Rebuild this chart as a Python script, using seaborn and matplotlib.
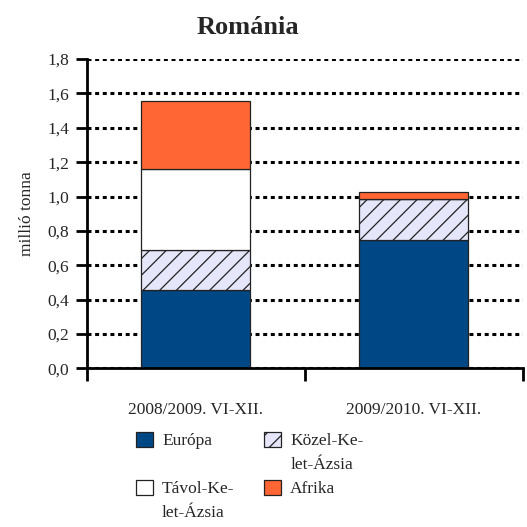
import numpy as np
import pandas as pd
import seaborn as sns
import matplotlib.pyplot as plt
from matplotlib.patches import Patch, Rectangle
from matplotlib.legend_handler import HandlerPatch

# adatok (millió tonna)
periods = ['2008/2009. VI-XII.', '2009/2010. VI-XII.']
regions = ['Európa', 'Közel-Kelet-Ázsia', 'Távol-Kelet-Ázsia', 'Afrika']
europa = [0.458, 0.746]
kozel_kelet = [0.229, 0.237]
tavol_kelet = [0.475, 0.0]
afrika = [0.391, 0.045]

legend_labels = ['Európa\n', 'Közel-Ke-\nlet-Ázsia', 'Távol-Ke-\nlet-Ázsia', 'Afrika\n']
colors = ['#004785', '#E6E6FA', '#FFFFFF', '#FF6633']
hatches = ['', '//', '', '']

df = pd.DataFrame({
    'period': periods * 4,
    'region': np.repeat(regions, 2),
    'value': europa + kozel_kelet + tavol_kelet + afrika,
})

sns.set_style('white')
plt.rcParams['font.family'] = ['Liberation Serif', 'DejaVu Serif']
plt.rcParams['hatch.linewidth'] = 0.9

fig = plt.figure(figsize=(5.27, 5.27), dpi=100)
ax = fig.add_axes([0.165, 0.3008, 0.827, 0.5872])

bottom = np.zeros(len(periods))
for reg, col, h in zip(regions, colors, hatches):
    sub = df[df['region'] == reg]
    sns.barplot(data=sub, x='period', y='value', order=periods, color=col,
                width=0.5, bottom=bottom, hatch=h, edgecolor='#222222',
                linewidth=0.9, saturation=1, ax=ax, zorder=3)
    bottom = bottom + sub['value'].to_numpy()

# rácsvonalak
ax.set_axisbelow(True)
ax.yaxis.grid(True, color='black', linewidth=2.2, linestyle=(0, (1.3, 1.2)),
              dash_capstyle='butt', zorder=0)
ax.xaxis.grid(False)

ax.set_ylim(0, 1.8)
ax.set_xlim(-0.5, 1.5)
yt = np.arange(0, 1.81, 0.2)
ax.set_yticks(yt)
ax.set_yticklabels([f'{v:.1f}'.replace('.', ',') for v in yt], fontsize=12.5)
ax.set_xticks([-0.5, 0.5, 1.5])
ax.set_xticklabels([])
ax.set_xticks([0, 1], minor=True)
ax.set_xticklabels(periods, minor=True, fontsize=12.5)
ax.tick_params(axis='x', which='minor', length=0, pad=24, bottom=False)
ax.tick_params(axis='x', which='major', direction='out', length=9, width=2,
               color='black', bottom=True)
ax.tick_params(axis='y', direction='out', length=8, width=2, color='black',
               pad=5, left=True)
ax.set_xlabel('')
ax.set_ylabel('millió tonna', fontsize=12.5, labelpad=9)

for s in ['top', 'right']:
    ax.spines[s].set_visible(False)
for s in ['left', 'bottom']:
    ax.spines[s].set_linewidth(2)
    ax.spines[s].set_color('black')
    ax.spines[s].set_zorder(4)

fig.text(0.47, 0.948, 'Románia', ha='center', va='center', fontsize=19, fontweight='bold')

# jelmagyarázat: a négyzet az első sorhoz igazodik
def first_line_patch(legend, orig_handle, xdescent, ydescent, width, height, fontsize):
    return Rectangle((-xdescent, -ydescent + 0.8 * fontsize), width, height)

handles = [Patch(facecolor=c, edgecolor='#222222', hatch=h, linewidth=0.9)
           for c, h in zip(colors, hatches)]
order = [0, 2, 1, 3]
leg = fig.legend([handles[i] for i in order], [legend_labels[i] for i in order],
                 ncol=2, loc='upper left', bbox_to_anchor=(0.245, 0.191), frameon=False,
                 fontsize=12.5, handlelength=0.95, handleheight=0.95, handletextpad=0.55,
                 columnspacing=1.7, labelspacing=0.5, borderaxespad=0,
                 handler_map={Patch: HandlerPatch(patch_func=first_line_patch)})
for t in leg.get_texts():
    t.set_linespacing(1.62)

fig.savefig('out.png', dpi=100)
